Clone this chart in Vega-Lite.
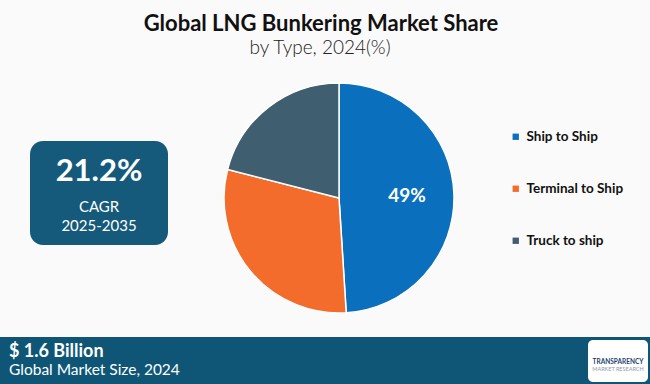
{
  "$schema": "https://vega.github.io/schema/vega-lite/v6.json",
  "width": 622,
  "height": 372,
  "autosize": {"type": "none"},
  "padding": {"left": 28, "top": 12, "right": 0, "bottom": 0},
  "background": "#fafafa",
  "config": {
    "view": {"stroke": null},
    "legend": {
      "orient": "none",
      "legendX": 481,
      "legendY": 118,
      "symbolType": "square",
      "symbolSize": 40,
      "symbolStrokeWidth": 0,
      "labelFont": "Lato",
      "labelFontWeight": "bold",
      "labelFontSize": 13.5,
      "labelColor": "#111111",
      "labelOffset": 4,
      "labelLimit": 200,
      "rowPadding": 37
    }
  },
  "layer": [
    {
      "data": {"values": [{}]},
      "mark": {"type": "rect", "x": -28, "x2": 622, "y": 325, "y2": 372, "color": "#0f5676"},
      "encoding": {}
    },
    {
      "data": {"values": [{}]},
      "mark": {"type": "rect", "x": 2, "x2": 140, "y": 129, "y2": 233, "color": "#155a7a", "cornerRadius": 13},
      "encoding": {}
    },
    {
      "data": {"values": [{}]},
      "mark": {"type": "rect", "x": 560, "x2": 620, "y": 328, "y2": 370, "color": "#ffffff", "cornerRadius": 5},
      "encoding": {}
    },
    {
      "data": {
        "values": [
          {"type": "Ship to Ship", "share": 49, "order": 1, "label": "49%"},
          {"type": "Terminal to Ship", "share": 30, "order": 2, "label": ""},
          {"type": "Truck to ship", "share": 21, "order": 3, "label": ""}
        ]
      },
      "layer": [
        {
          "mark": {"type": "arc", "outerRadius": 115, "stroke": "#ffffff", "strokeWidth": 1.5},
          "encoding": {
            "theta": {"field": "share", "type": "quantitative", "stack": true},
            "order": {"field": "order", "type": "ordinal"},
            "color": {
              "field": "type",
              "type": "nominal",
              "title": null,
              "scale": {
                "domain": ["Ship to Ship", "Terminal to Ship", "Truck to ship"],
                "range": ["#0a6fbd", "#f36c2c", "#3f5f70"]
              }
            }
          }
        },
        {
          "mark": {"type": "text", "radius": 68, "font": "Lato", "fontWeight": "bold", "fontSize": 19, "color": "#ffffff"},
          "encoding": {
            "theta": {"field": "share", "type": "quantitative", "stack": true},
            "order": {"field": "order", "type": "ordinal"},
            "text": {"field": "label"}
          }
        }
      ]
    },
    {
      "data": {"values": [{"t": "Global LNG Bunkering Market Share"}]},
      "mark": {"type": "text", "x": 293, "y": 12, "font": "Lato", "fontWeight": "bold", "fontSize": 22, "color": "#111111", "align": "center", "baseline": "middle"},
      "encoding": {"text": {"field": "t"}}
    },
    {
      "data": {"values": [{"t": "by Type, 2024(%)"}]},
      "mark": {"type": "text", "x": 292, "y": 36, "font": "Lato", "fontWeight": 300, "fontSize": 19, "color": "#222222", "align": "center", "baseline": "middle"},
      "encoding": {"text": {"field": "t"}}
    },
    {
      "data": {"values": [{"t": "21.2%"}]},
      "mark": {"type": "text", "x": 71, "y": 160, "font": "Lato", "fontWeight": "bold", "fontSize": 31, "color": "#ffffff", "align": "center", "baseline": "middle"},
      "encoding": {"text": {"field": "t"}}
    },
    {
      "data": {"values": [{"t": "CAGR"}]},
      "mark": {"type": "text", "x": 71, "y": 195, "font": "Lato", "fontSize": 15, "color": "#ffffff", "align": "center", "baseline": "middle"},
      "encoding": {"text": {"field": "t"}}
    },
    {
      "data": {"values": [{"t": "2025-2035"}]},
      "mark": {"type": "text", "x": 71, "y": 214, "font": "Lato", "fontSize": 15, "color": "#ffffff", "align": "center", "baseline": "middle"},
      "encoding": {"text": {"field": "t"}}
    },
    {
      "data": {"values": [{"t": "$ 1.6 Billion"}]},
      "mark": {"type": "text", "x": -19, "y": 340, "font": "Lato", "fontWeight": "bold", "fontSize": 18, "color": "#ffffff", "align": "left", "baseline": "middle"},
      "encoding": {"text": {"field": "t"}}
    },
    {
      "data": {"values": [{"t": "Global Market Size, 2024"}]},
      "mark": {"type": "text", "x": -19, "y": 358, "font": "Lato", "fontSize": 15.5, "color": "#ffffff", "align": "left", "baseline": "middle"},
      "encoding": {"text": {"field": "t"}}
    },
    {
      "data": {"values": [{"t": "TRANSPARENCY"}]},
      "mark": {"type": "text", "x": 590, "y": 350, "font": "Lato", "fontWeight": "bold", "fontSize": 6.5, "color": "#1d3f6e", "align": "center", "baseline": "middle"},
      "encoding": {"text": {"field": "t"}}
    },
    {
      "data": {"values": [{"t": "MARKET RESEARCH"}]},
      "mark": {"type": "text", "x": 590, "y": 357, "font": "Lato", "fontSize": 5.5, "color": "#8a9aa8", "align": "center", "baseline": "middle"},
      "encoding": {"text": {"field": "t"}}
    }
  ]
}
